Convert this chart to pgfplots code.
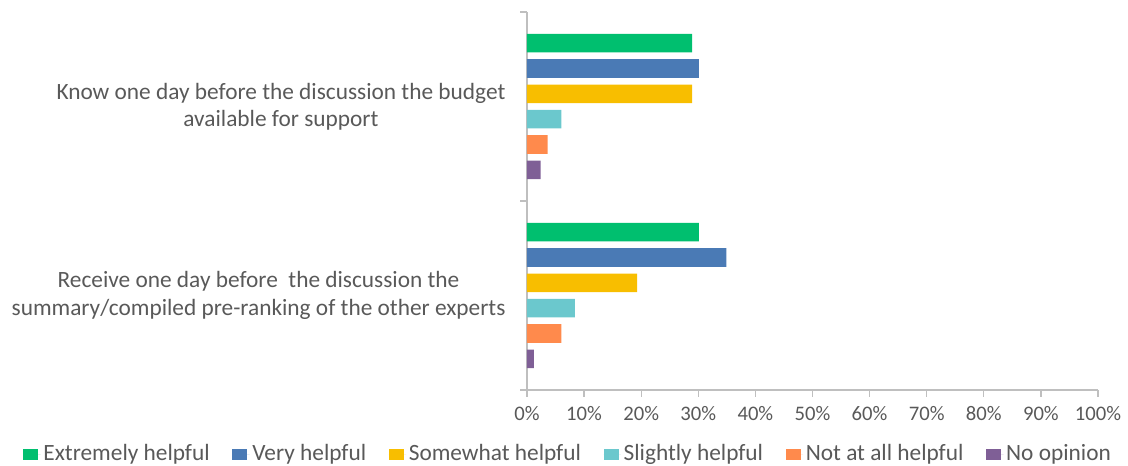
\documentclass[border=0pt]{standalone}
\usepackage{pgfplots}
\pgfplotsset{compat=1.18}
\usepackage{fontspec}
\setmainfont{Carlito}
\definecolor{cgreen}{RGB}{0,191,111}
\definecolor{cblue}{RGB}{74,122,181}
\definecolor{cyellow}{RGB}{248,190,0}
\definecolor{cteal}{RGB}{107,200,205}
\definecolor{corange}{RGB}{255,138,76}
\definecolor{cpurple}{RGB}{127,95,150}
\definecolor{ctext}{RGB}{89,89,89}
\definecolor{caxis}{RGB}{191,191,191}
\begin{document}
\fontsize{15}{20}\selectfont
\begin{tikzpicture}
\useasboundingbox (-395.25pt,-56.25pt) rectangle (450.75pt,292.5pt);
\begin{axis}[
  at={(0,0)}, anchor=south west,
  scale only axis, width=428.25pt, height=283.5pt,
  xmin=0, xmax=100, ymin=-0.5, ymax=1.5,
  xbar, bar width=13.9pt,
  axis lines*=left,
  axis line style={caxis, line width=1pt},
  tick style={caxis, line width=1pt},
  tick align=outside, major tick length=5pt,
  xtick={0,10,...,100},
  xticklabel={\pgfmathprintnumber{\tick}\%},
  /pgf/number format/assume math mode=true,
  ytick={-0.5,0.5,1.5}, yticklabels={},
  extra y ticks={0,1},
  extra y tick labels={{Receive one day before\ \ the discussion the\\summary/compiled pre-ranking of the other experts},{Know one day before the discussion the budget\\available for support}},
  extra y tick style={major tick length=0pt, yticklabel style={align=center, xshift=-11pt, font=\fontsize{17.5}{20.5}\selectfont}},
  tick label style={color=ctext, font=\fontsize{15.5}{20}\selectfont},
  xticklabel style={yshift=-2pt},
  legend columns=6,
  legend style={at={(0.0727,-0.17)}, anchor=center, draw=none, text=ctext,
    font=\fontsize{17.5}{20}\selectfont,
    /tikz/every even column/.append style={column sep=15pt}},
  legend image code/.code={\path (0pt,0pt) -- (13pt,0pt); \fill[#1] (0pt,-4.1pt) rectangle (11.25pt,4.1pt);},
]
\addplot[fill=cgreen, draw=none, bar shift=47.5pt] coordinates {(28.9,1) (30.1,0)};
\addplot[fill=cblue, draw=none, bar shift=28.5pt] coordinates {(30.1,1) (34.9,0)};
\addplot[fill=cyellow, draw=none, bar shift=9.5pt] coordinates {(28.9,1) (19.3,0)};
\addplot[fill=cteal, draw=none, bar shift=-9.5pt] coordinates {(6.0,1) (8.4,0)};
\addplot[fill=corange, draw=none, bar shift=-28.5pt] coordinates {(3.6,1) (6.0,0)};
\addplot[fill=cpurple, draw=none, bar shift=-47.5pt] coordinates {(2.4,1) (1.2,0)};
\legend{Extremely helpful, Very helpful, Somewhat helpful, Slightly helpful, Not at all helpful, No opinion}
\end{axis}
\end{tikzpicture}
\end{document}
